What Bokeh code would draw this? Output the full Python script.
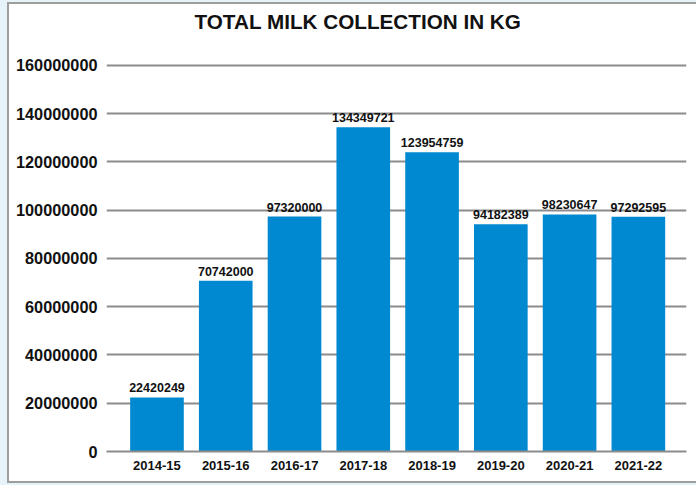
from bokeh.plotting import figure
from bokeh.models import Range1d, FixedTicker, BasicTickFormatter, ColumnDataSource, Title
from bokeh.core.properties import value
from bokeh.embed import file_html
from bokeh.resources import INLINE

# ---- data ----
years = ["2014-15", "2015-16", "2016-17", "2017-18", "2018-19", "2019-20", "2020-21", "2021-22"]
milk_kg = [22420249, 70742000, 97320000, 134349721, 123954759, 94182389, 98230647, 97292595]
y_ticks = [0, 20000000, 40000000, 60000000, 80000000, 100000000, 120000000, 140000000, 160000000]
title_text = "TOTAL MILK COLLECTION IN KG"

FONT = "Liberation Sans"
BAR = "#0089D0"
GRID = "#8c8c8c"

idx = list(range(len(years)))
src = ColumnDataSource(dict(
    x=idx,
    top=milk_kg,
    label=[str(v) for v in milk_kg],
))

p = figure(
    width=687, height=477,
    x_range=Range1d(-0.734, 7.70),
    y_range=Range1d(0, 162000000),
    output_backend="svg",
    toolbar_location=None,
    min_border_left=97, min_border_right=10,
    min_border_top=56, min_border_bottom=30,
)
p.styles = {
    "margin-left": "9px",
    "margin-top": "4px",
    "box-shadow": "0 0 0 2px #9e9e9e, 0 0 0 16px #e6f4fa",
}
p.background_fill_color = "white"
p.border_fill_color = "white"
p.outline_line_color = None

# main title (outer)
p.title.text = title_text
p.title.align = "left"
p.title.offset = 88
p.title.vertical_align = "bottom"
p.title.standoff = 0
p.title.text_font = FONT
p.title.text_font_size = "20.7px"
p.title.text_font_style = "bold"
p.title.text_color = "#111111"

# spacer between the title and the plot frame
spacer = Title(text=" ", text_font_size="1px", standoff=25)
p.add_layout(spacer, "above")

p.vbar(x="x", top="top", bottom=0, width=0.78, source=src,
       fill_color=BAR, line_color=None)

p.text(x="x", y="top", text="label", source=src,
       text_font=value(FONT), text_font_size="12.5px", text_font_style="bold",
       text_color="#111111", text_align="center", text_baseline="bottom",
       y_offset=-5)

# grid
p.xgrid.grid_line_color = None
p.ygrid.grid_line_color = GRID
p.ygrid.grid_line_width = 2
p.ygrid.ticker = FixedTicker(ticks=y_ticks)

# y axis
ya = p.yaxis[0]
ya.ticker = FixedTicker(ticks=y_ticks)
ya.formatter = BasicTickFormatter(use_scientific=False)
ya.axis_line_color = None
ya.major_tick_line_color = None
ya.minor_tick_line_color = None
ya.major_tick_out = 0
ya.major_tick_in = 0
ya.major_label_standoff = 9
ya.major_label_text_font = FONT
ya.major_label_text_font_size = "16.3px"
ya.major_label_text_font_style = "bold"
ya.major_label_text_color = "#111111"

# x axis
xa = p.xaxis[0]
xa.ticker = FixedTicker(ticks=idx)
xa.major_label_overrides = {i: y for i, y in zip(idx, years)}
xa.axis_line_color = GRID
xa.axis_line_width = 2
xa.major_tick_line_color = None
xa.minor_tick_line_color = None
xa.major_tick_out = 0
xa.major_tick_in = 0
xa.major_label_standoff = 9
xa.major_label_text_font = FONT
xa.major_label_text_font_size = "13px"
xa.major_label_text_font_style = "bold"
xa.major_label_text_color = "#111111"

html = file_html(p, INLINE)
open("out.html", "w").write(html)
